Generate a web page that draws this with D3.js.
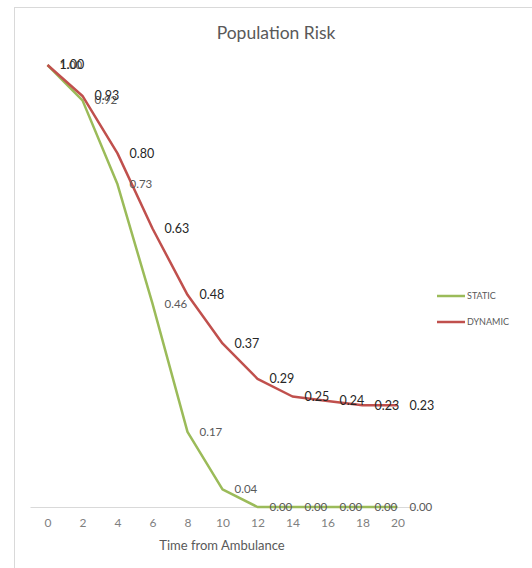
<!DOCTYPE html>
<html>
<head>
<meta charset="utf-8">
<script src="https://cdn.jsdelivr.net/npm/d3@7"></script>
<style>
  body { margin: 0; background: #fff; }
  text { font-family: Lato, "Open Sans", sans-serif; }
</style>
</head>
<body>
<div id="canvas"></div>
<script>
var categories = ['0','2','4','6','8','10','12','14','16','18','20'];
var staticRisk = [1.00, 0.92, 0.73, 0.46, 0.17, 0.04, 0.00, 0.00, 0.00, 0.00, 0.00];
var dynamicRisk = [1.00, 0.93, 0.80, 0.63, 0.48, 0.37, 0.29, 0.25, 0.24, 0.23, 0.23];
var seriesNames = ['STATIC', 'DYNAMIC'];

var W = 532, H = 568;
var svg = d3.select('#canvas').append('svg')
    .attr('width', W).attr('height', H);

// chart frame
svg.append('rect')
    .attr('x', 14.5).attr('y', 7.5)
    .attr('width', 600).attr('height', 600)
    .attr('fill', '#fff').attr('stroke', '#d9d9d9');

var scaleX = d3.scalePoint()
    .domain(categories)
    .range([30, 415])
    .padding(0.5);
var scaleY = d3.scaleLinear()
    .domain([0, 1])
    .range([507, 65]);

svg.append('text')
    .attr('x', 276).attr('y', 39)
    .attr('text-anchor', 'middle')
    .attr('font-size', 17.5)
    .attr('fill', '#595959')
    .text('Population Risk');

// x axis
var axisX = d3.axisBottom(scaleX).tickSize(0).tickPadding(11);
var gx = svg.append('g')
    .attr('transform', 'translate(0,507)')
    .call(axisX);
gx.select('.domain').attr('stroke', '#d9d9d9').attr('d', 'M30.5,0.5H415.5');
gx.selectAll('text')
    .attr('font-size', 12)
    .attr('fill', '#7f7f7f')
    .style('font-family', 'Lato, sans-serif');

svg.append('text')
    .attr('x', 222).attr('y', 550)
    .attr('text-anchor', 'middle')
    .attr('font-size', 13)
    .attr('fill', '#595959')
    .text('Time from Ambulance');

var line = d3.line()
    .x(function(d, i){ return scaleX(categories[i]); })
    .y(function(d){ return scaleY(d); });

var series = [
    {name: seriesNames[0], values: staticRisk, color: '#9bbb59', label: '#595959', size: 11.5},
    {name: seriesNames[1], values: dynamicRisk, color: '#c0504d', label: '#262626', size: 12.5}
];

series.forEach(function(s){
    svg.append('path')
        .datum(s.values)
        .attr('d', line)
        .attr('fill', 'none')
        .attr('stroke', s.color)
        .attr('stroke-width', 2.5)
        .attr('stroke-linejoin', 'round');
});

series.forEach(function(s){
    svg.append('g').selectAll('text')
        .data(s.values)
        .enter().append('text')
        .attr('x', function(d, i){ return scaleX(categories[i]) + 12; })
        .attr('y', function(d){ return scaleY(d); })
        .attr('dy', '0.35em')
        .attr('font-size', s.size)
        .attr('fill', s.label)
        .text(function(d){ return d.toFixed(2); });
});

// legend
var legend = svg.append('g').attr('transform', 'translate(437,296)');
series.forEach(function(s, i){
    var g = legend.append('g').attr('transform', 'translate(0,' + (i * 26) + ')');
    g.append('line')
        .attr('x1', 0).attr('x2', 28)
        .attr('stroke', s.color).attr('stroke-width', 2.5);
    g.append('text')
        .attr('x', 30).attr('dy', '0.35em')
        .attr('font-size', 9)
        .attr('fill', '#595959')
        .text(s.name);
});
</script>
</body>
</html>
